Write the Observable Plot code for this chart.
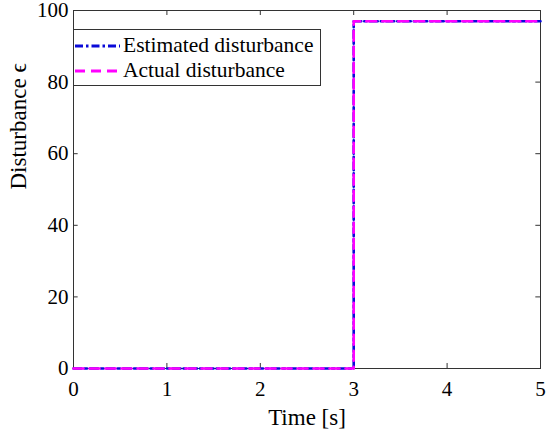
<!DOCTYPE html>
<html>
<head>
<meta charset="utf-8">
<script src="https://cdn.jsdelivr.net/npm/d3@7"></script>
<script src="https://cdn.jsdelivr.net/npm/@observablehq/plot@0.6"></script>
<style>
  body { margin: 0; background: #fff; font-family: 'Liberation Serif', serif; }
  #wrap { position: relative; width: 550px; height: 433px; }
  #wrap svg text { font-family: 'Liberation Serif', serif; }
  #legend {
    position: absolute; left: 73px; top: 29px; width: 248px; height: 57px;
    border: 1px solid #333; background: #fff; box-sizing: border-box;
    font-family: 'Liberation Serif', serif; font-size: 21.5px; color: #000;
    padding-top: 3px;
  }
  .row { display: flex; align-items: center; height: 25px; }
  .row svg { margin-left: 1px; margin-right: 3px; }
</style>
</head>
<body>
<div id="wrap"></div>
<script>
const time = [0, 3, 3, 5];
const estimated = [0, 0, 97, 97];
const actual = [0, 0, 97, 97];
const xTicks = [0, 1, 2, 3, 4, 5];
const yTicks = [0, 20, 40, 60, 80, 100];
const seriesNames = ["Estimated disturbance", "Actual disturbance"];

const blue = "#0a0ad8";
const magenta = "#ff00ff";
const estData = time.map((t, i) => ({t, v: estimated[i]}));
const actData = time.map((t, i) => ({t, v: actual[i]}));

const font = "'Liberation Serif', serif";
const inner = xTicks.slice(1, -1);
const innerY = yTicks.slice(1, -1);
const chart = Plot.plot({
  width: 550,
  height: 433,
  marginLeft: 73,
  marginRight: 10,
  marginTop: 10,
  marginBottom: 65,
  style: {fontFamily: font, fontSize: "21px", color: "#000", background: "#fff"},
  x: {domain: [0, 5], ticks: xTicks, label: null},
  y: {domain: [0, 100], ticks: yTicks, label: null},
  marks: [
    Plot.frame({stroke: "#333", strokeWidth: 1}),
    Plot.ruleX(inner, {x: d => d, y1: 0, y2: 1.4, stroke: "#333"}),
    Plot.ruleX(inner, {x: d => d, y1: 100, y2: 98.6, stroke: "#333"}),
    Plot.ruleY(innerY, {y: d => d, x1: 0, x2: 0.05, stroke: "#333"}),
    Plot.ruleY(innerY, {y: d => d, x1: 5, x2: 4.95, stroke: "#333"}),
    Plot.axisX({ticks: xTicks, tickSize: 0, tickPadding: 6, dy: 7, fontSize: 21, tickFormat: d => d}),
    Plot.axisY({ticks: yTicks, tickSize: 0, tickPadding: 5, fontSize: 21, tickFormat: d => d}),
    Plot.line(estData, {x: "t", y: "v", stroke: blue, strokeWidth: 2.6, strokeDasharray: "8,3,2.5,3", clip: false}),
    Plot.line(actData, {x: "t", y: "v", stroke: magenta, strokeWidth: 2.6, strokeDasharray: "10,6", clip: false}),
    Plot.text(["Time [s]"], {frameAnchor: "bottom", dy: 56, text: d => d, fontSize: 23}),
    Plot.text(["Disturbance ϵ"], {frameAnchor: "left", dx: -55, rotate: -90, text: d => d, fontSize: 23})
  ]
});
const wrap = document.getElementById("wrap");
wrap.appendChild(chart);

const legend = document.createElement("div");
legend.id = "legend";
const styles = [
  {stroke: blue, dash: "8,3,2.5,3"},
  {stroke: magenta, dash: "10,6"}
];
seriesNames.forEach((name, i) => {
  const row = document.createElement("div");
  row.className = "row";
  row.innerHTML = `<svg width="45" height="10"><line x1="0" y1="5" x2="45" y2="5" stroke="${styles[i].stroke}" stroke-width="2.8" stroke-dasharray="${styles[i].dash}"/></svg><span>${name}</span>`;
  legend.appendChild(row);
});
wrap.appendChild(legend);
</script>
</body>
</html>
